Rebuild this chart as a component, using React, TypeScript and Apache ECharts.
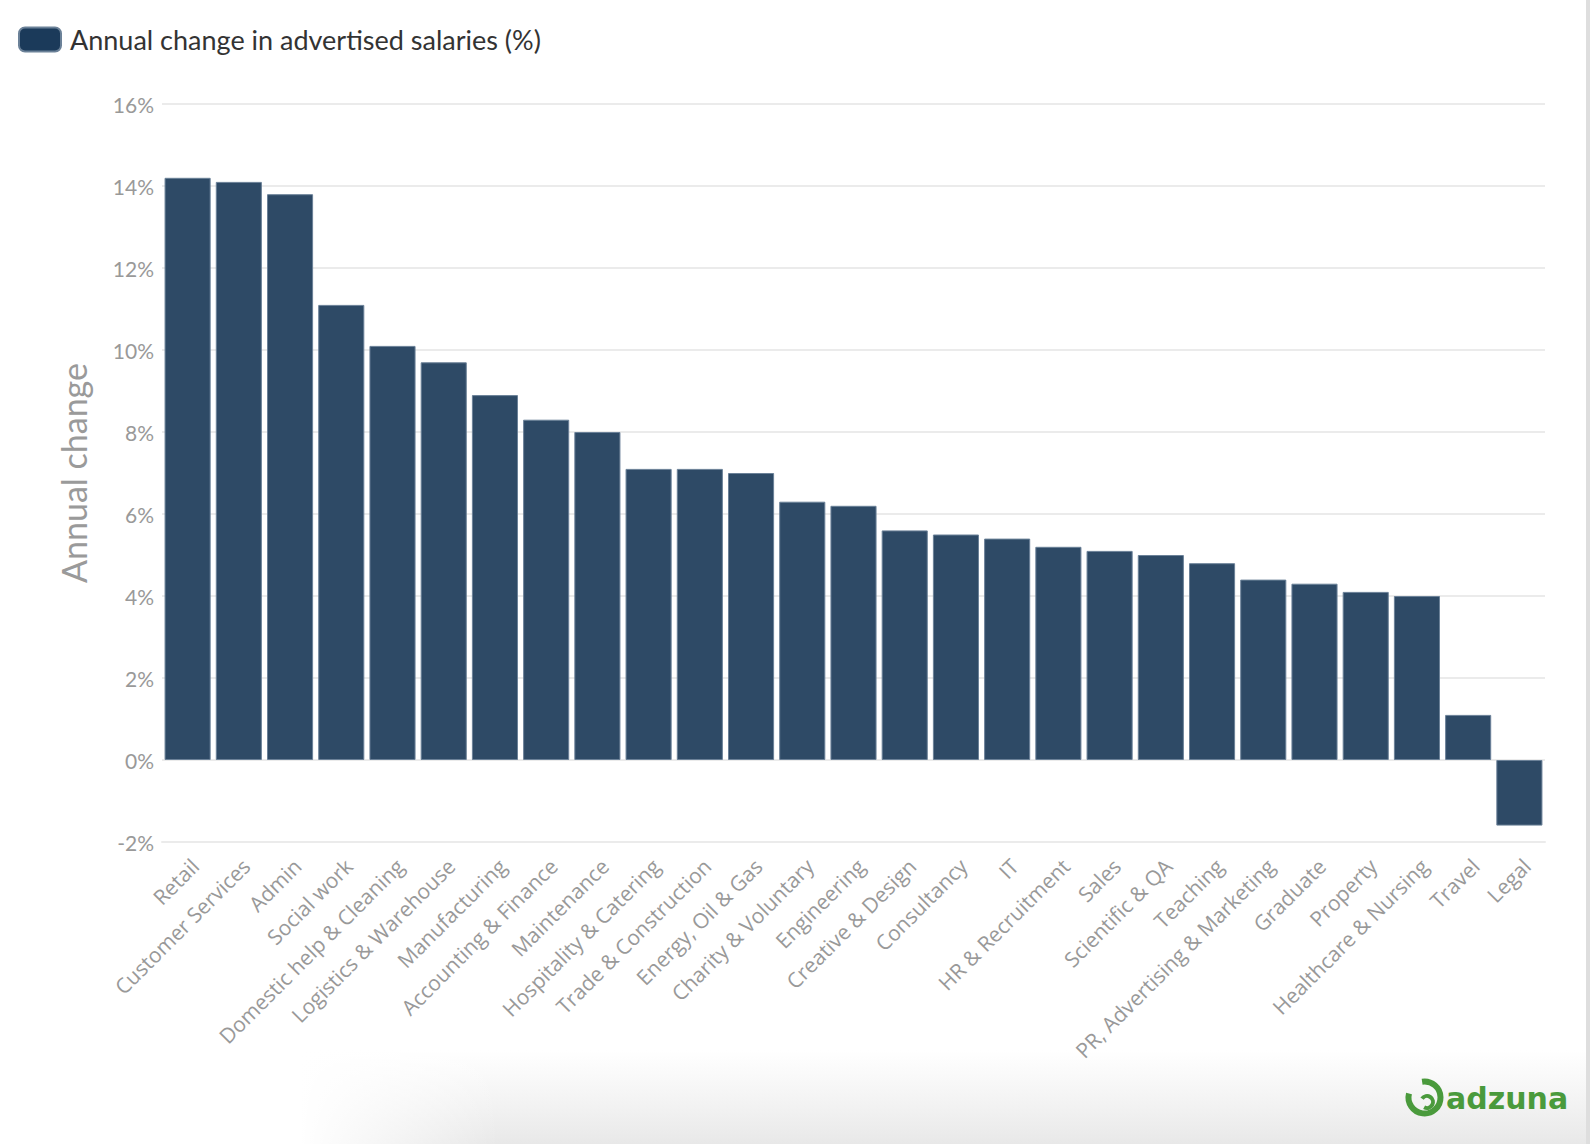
import React, { useEffect, useRef } from "react";
import * as echarts from "echarts";

const categories = [
  "Retail", "Customer Services", "Admin", "Social work", "Domestic help & Cleaning",
  "Logistics & Warehouse", "Manufacturing", "Accounting & Finance", "Maintenance",
  "Hospitality & Catering", "Trade & Construction", "Energy, Oil & Gas",
  "Charity & Voluntary", "Engineering", "Creative & Design", "Consultancy", "IT",
  "HR & Recruitment", "Sales", "Scientific & QA", "Teaching",
  "PR, Advertising & Marketing", "Graduate", "Property", "Healthcare & Nursing",
  "Travel", "Legal",
];
const values = [
  14.2, 14.1, 13.8, 11.1, 10.1, 9.7, 8.9, 8.3, 8.0, 7.1, 7.1, 7.0, 6.3, 6.2,
  5.6, 5.5, 5.4, 5.2, 5.1, 5.0, 4.8, 4.4, 4.3, 4.1, 4.0, 1.1, -1.6,
];
const seriesName = "Annual change in advertised salaries (%)";
const yAxisName = "Annual change";
const yMin = -2;
const yMax = 16;
const yInterval = 2;

export default function App() {
  const ref = useRef<HTMLDivElement>(null);
  useEffect(() => {
    document.body.style.margin = "0";
    document.body.style.overflow = "hidden";
    const chart = echarts.init(ref.current!, null, { renderer: "svg" });
    const green = "#4a9a3c";
    chart.setOption({
      animation: false,
      backgroundColor: "#ffffff",
      legend: {
        left: 18,
        top: 26,
        padding: 0,
        itemWidth: 42,
        itemHeight: 24,
        itemGap: 10,
        icon: "roundRect",
        data: [{ name: seriesName, itemStyle: { color: "#1b3a5a" } }],
        textStyle: { fontFamily: "Lato", fontSize: 27, color: "#333333", padding: [0, 0, 0, 4] },
        selectedMode: false,
      },
      grid: { left: 162, right: 45, top: 104, bottom: 302, containLabel: false },
      xAxis: {
        type: "category",
        data: categories,
        axisLine: { onZero: false, lineStyle: { color: "#ebebeb", width: 2 } },
        axisTick: { alignWithLabel: true, length: 10, lineStyle: { color: "#ebebeb", width: 2 } },
        axisLabel: {
          interval: 0,
          rotate: 45,
          margin: 13,
          verticalAlign: "top",
          fontFamily: "Open Sans",
          fontSize: 21,
          color: "#999999",
        },
      },
      yAxis: {
        type: "value",
        min: yMin,
        max: yMax,
        interval: yInterval,
        name: yAxisName,
        nameLocation: "middle",
        nameGap: 72,
        nameTextStyle: { fontFamily: "Lato", fontSize: 34, color: "#9a9a9a" },
        axisLine: { show: false },
        axisTick: { show: false },
        axisLabel: {
          formatter: "{value}%",
          fontFamily: "Lato",
          fontSize: 21,
          color: "#999999",
          margin: 8,
        },
        splitLine: { lineStyle: { color: "#ebebeb", width: 2 } },
      },
      series: [
        {
          name: seriesName,
          type: "bar",
          data: values,
          barCategoryGap: "10%",
          itemStyle: { color: "#2e4a66", borderColor: "#6b8198", borderWidth: 1 },
        },
      ],
      graphic: [
        {
          type: "rect",
          shape: { x: 300, y: 1050, width: 1290, height: 94 },
          silent: true,
          z: -10,
          style: {
            fill: new echarts.graphic.LinearGradient(0, 0, 0, 1, [
              { offset: 0, color: "rgba(235,235,235,0)" },
              { offset: 1, color: "rgba(232,232,232,1)" },
            ]),
          },
        },
        {
          type: "rect",
          shape: { x: 300, y: 1050, width: 200, height: 94 },
          silent: true,
          z: -9,
          style: {
            fill: new echarts.graphic.LinearGradient(0, 0, 1, 0, [
              { offset: 0, color: "rgba(255,255,255,1)" },
              { offset: 1, color: "rgba(255,255,255,0)" },
            ]),
          },
        },
        {
          type: "rect",
          shape: { x: 1586, y: 0, width: 4, height: 1144 },
          silent: true,
          style: { fill: "#dedede" },
        },
        {
          type: "group",
          silent: true,
          children: [
            {
              type: "arc",
              shape: { cx: 1424.5, cy: 1097.5, r: 16, startAngle: -Math.PI / 2 - 0.15, endAngle: Math.PI + 0.25, clockwise: true },
              style: { stroke: green, lineWidth: 6, fill: "none" },
            },
            {
              type: "arc",
              shape: { cx: 1427, cy: 1102, r: 6, startAngle: Math.PI + 0.6, endAngle: Math.PI / 2 + 0.5, clockwise: true },
              style: { stroke: green, lineWidth: 4, fill: "none" },
            },
            {
              type: "text",
              x: 1446,
              y: 1098,
              style: {
                text: "adzuna",
                fontFamily: "DejaVu Sans",
                fontWeight: "bold",
                fontSize: 30,
                fill: green,
                verticalAlign: "middle",
              },
            },
          ],
        },
      ],
    });
    return () => chart.dispose();
  }, []);
  return <div ref={ref} style={{ width: 1590, height: 1144 }} />;
}
